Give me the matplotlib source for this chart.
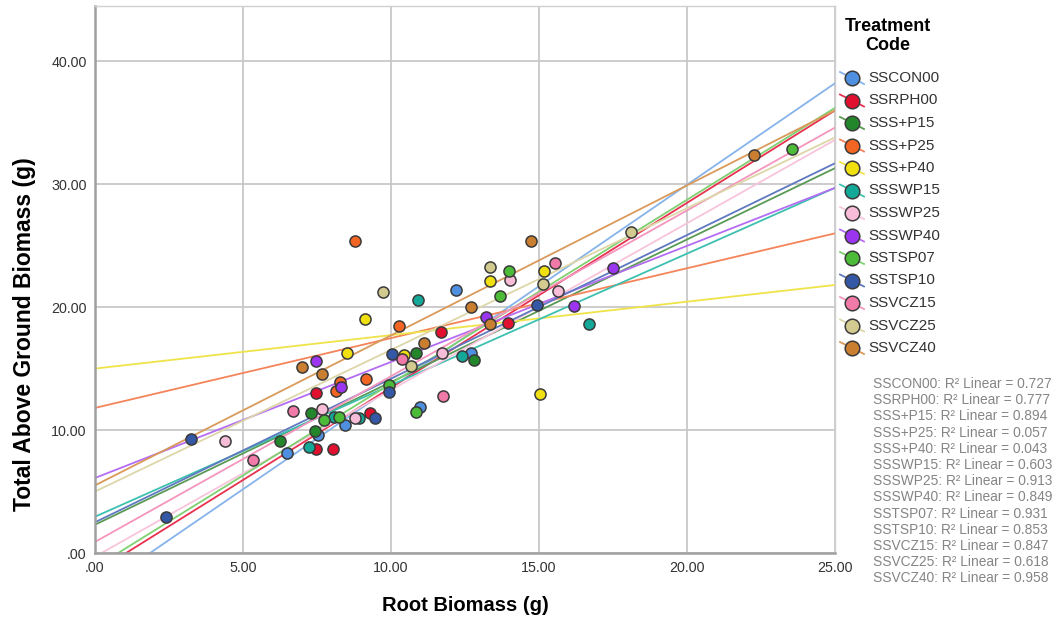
import matplotlib
matplotlib.use('Agg')
import matplotlib.pyplot as plt
from matplotlib.lines import Line2D
from matplotlib.ticker import FuncFormatter, MultipleLocator

plt.rcParams['font.family'] = ['Liberation Sans', 'DejaVu Sans']

# Treatment groups, as in the legend
codes = ['SSCON00', 'SSRPH00', 'SSS+P15', 'SSS+P25', 'SSS+P40', 'SSSWP15', 'SSSWP25',
         'SSSWP40', 'SSTSP07', 'SSTSP10', 'SSVCZ15', 'SSVCZ25', 'SSVCZ40']
r2 = [0.727, 0.777, 0.894, 0.057, 0.043, 0.603, 0.913,
      0.849, 0.931, 0.853, 0.847, 0.618, 0.958]

# fit lines (intercept at x=0, slope)
intercepts = [-3.07, -1.58, 2.3, 11.8, 15.0, 2.95, -0.3, 6.1, -1.17, 2.5, 0.9, 5.0, 5.5]
slopes = [1.651, 1.503, 1.16, 0.568, 0.272, 1.07, 1.356, 0.944, 1.495, 1.168, 1.348, 1.152, 1.22]

# root biomass (x) and above-ground biomass (y) per group
root = {
    'SSCON00': [12.2, 12.7, 8.45, 6.48, 7.52, 10.98],
    'SSRPH00': [11.69, 7.46, 9.29, 7.47, 8.03, 13.94],
    'SSS+P15': [10.83, 12.8, 7.3, 6.25, 7.45],
    'SSS+P25': [8.78, 10.28, 8.28, 8.13, 9.16],
    'SSS+P40': [9.12, 13.34, 8.5, 10.45, 15.17, 15.03],
    'SSSWP15': [10.9, 12.39, 16.69, 7.23, 8.92, 8.08],
    'SSSWP25': [7.66, 8.78, 4.39, 14.02, 15.63, 11.72],
    'SSSWP40': [13.2, 7.47, 8.3, 16.19, 17.49],
    'SSTSP07': [13.99, 13.68, 7.75, 8.25, 10.86, 23.56, 9.95],
    'SSTSP10': [10.02, 14.94, 9.93, 9.46, 2.4, 3.24],
    'SSVCZ15': [10.38, 15.54, 6.68, 5.33, 11.77],
    'SSVCZ25': [9.72, 13.34, 10.68, 15.15, 18.1],
    'SSVCZ40': [12.7, 11.13, 7.0, 7.66, 14.72, 22.26, 13.34],
}
above = {
    'SSCON00': [21.4, 16.3, 10.4, 8.1, 9.6, 11.9],
    'SSRPH00': [18.0, 13.0, 11.35, 8.45, 8.45, 18.7],
    'SSS+P15': [16.3, 15.7, 11.4, 9.1, 9.9],
    'SSS+P25': [25.4, 18.5, 13.9, 13.17, 14.15],
    'SSS+P40': [19.0, 22.1, 16.3, 16.1, 22.95, 12.9],
    'SSSWP15': [20.6, 16.05, 18.6, 8.6, 11.0, 11.1],
    'SSSWP25': [11.7, 10.95, 9.13, 22.2, 21.3, 16.3],
    'SSSWP40': [19.2, 15.6, 13.5, 20.1, 23.2],
    'SSTSP07': [22.95, 20.9, 10.8, 11.1, 11.5, 32.9, 13.7],
    'SSTSP10': [16.2, 20.2, 13.1, 10.95, 2.9, 9.27],
    'SSVCZ15': [15.8, 23.6, 11.57, 7.6, 12.8],
    'SSVCZ25': [21.2, 23.3, 15.2, 21.9, 26.1],
    'SSVCZ40': [20.0, 17.05, 15.15, 14.6, 25.4, 32.4, 18.6],
}

point_colors = ['#4f8fe0', '#e0102e', '#23862a', '#f26522', '#f0e010', '#14a898', '#f7bcd8',
                '#9b35f0', '#4cbb38', '#3458a6', '#f27aa8', '#d2ca8e', '#c97e30']
line_colors = ['#86b3ea', '#e8304f', '#5a9a55', '#f5845a', '#eee44a', '#3cc0b0', '#f8c4dc',
               '#b46cf2', '#7ed070', '#5f78c0', '#f595bd', '#ddd6a8', '#d99a5a']

fig = plt.figure(figsize=(10.6, 6.21), dpi=100)
ax = fig.add_axes([0.0896, 0.1095, 0.6981, 0.881])

xs = [0, 25]
for code, b0, b1, lc in zip(codes, intercepts, slopes, line_colors):
    ax.plot(xs, [b0 + b1 * x for x in xs], color=lc, lw=1.3, zorder=2)

for code, pc in zip(codes, point_colors):
    ax.scatter(root[code], above[code], s=64, color=pc, edgecolors='#3a3a3a',
               linewidths=1.1, zorder=3)

ax.set_xlim(0, 25)
ax.set_ylim(0, 44.5)
ax.xaxis.set_major_locator(MultipleLocator(5))
ax.yaxis.set_major_locator(MultipleLocator(10))
fmt = FuncFormatter(lambda v, p: '.00' if v == 0 else f'{v:.2f}')
ax.xaxis.set_major_formatter(fmt)
ax.yaxis.set_major_formatter(fmt)
ax.tick_params(length=0, labelsize=10.3, labelcolor='#333333', pad=6)
ax.grid(True, color='#c8c8c8', lw=1.3)
ax.set_axisbelow(True)
for side in ['top', 'right']:
    ax.spines[side].set_color('#d0d0d0')
    ax.spines[side].set_linewidth(1.0)
for side in ['left', 'bottom']:
    ax.spines[side].set_color('#a0a0a0')
    ax.spines[side].set_linewidth(1.8)

ax.set_xlabel('Root Biomass (g)', fontsize=14.5, fontweight='bold')
ax.xaxis.set_label_coords(0.5, -0.078)
ax.set_ylabel('Total Above Ground Biomass (g)', fontsize=16.5, fontweight='bold')
ax.yaxis.set_label_coords(-0.08, 0.4)

# legend drawn by hand: slanted line through each marker, as in SPSS
fig.text(888 / 1060, 1 - 36 / 621, 'Treatment\nCode', ha='center', va='center',
         fontsize=13, fontweight='bold', linespacing=1.15)
for i, (code, pc, lc) in enumerate(zip(codes, point_colors, line_colors)):
    yc = 1 - (78 + i * 22.5) / 621
    fig.add_artist(Line2D([840 / 1060, 864 / 1060], [yc + 6 / 621, yc - 6 / 621],
                          color=lc, lw=1.3, transform=fig.transFigure))
    fig.add_artist(Line2D([852 / 1060], [yc], marker='o', markersize=10.5,
                          markerfacecolor=pc, markeredgecolor='#3a3a3a',
                          markeredgewidth=1.1, transform=fig.transFigure))
    fig.text(868 / 1060, yc, code, ha='left', va='center', fontsize=11, color='#333333')

for i, (code, r) in enumerate(zip(codes, r2)):
    fig.text(873 / 1060, 1 - (384 + i * 16.2) / 621, f'{code}: R² Linear = {r:.3f}',
             ha='left', va='center', fontsize=9.9, color='#858585')

fig.savefig('out.png', dpi=100)
